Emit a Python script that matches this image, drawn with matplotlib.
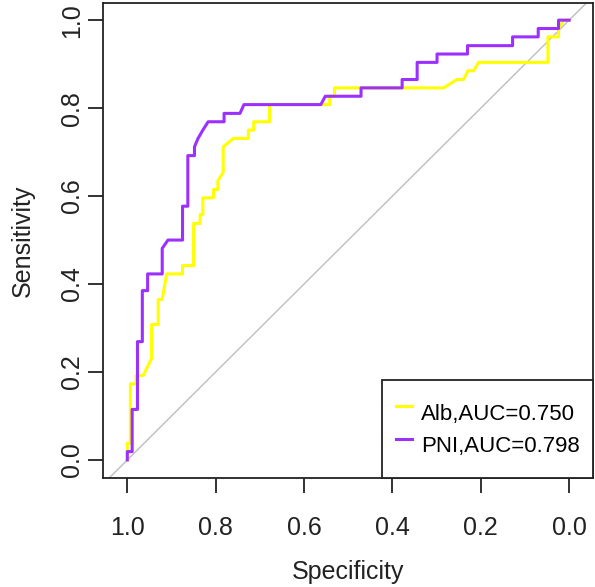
import matplotlib
matplotlib.use("Agg")
import matplotlib.pyplot as plt

plt.rcParams['font.family'] = ['Liberation Sans', 'DejaVu Sans']

# ROC 曲线的顶点 (specificity, sensitivity)
alb_spec = [1.000, 1.000, 0.993, 0.993, 0.980, 0.980, 0.964, 0.945, 0.945, 0.930,
            0.930, 0.921, 0.911, 0.875, 0.875, 0.850, 0.850, 0.835, 0.835, 0.829,
            0.829, 0.805, 0.805, 0.795, 0.795, 0.783, 0.783, 0.760, 0.726, 0.726,
            0.714, 0.714, 0.678, 0.678, 0.542, 0.542, 0.531, 0.531, 0.284, 0.254,
            0.239, 0.229, 0.216, 0.205, 0.048, 0.048, 0.024, 0.024, 0.012, 0.000]
alb_sens = [0.000, 0.038, 0.038, 0.173, 0.173, 0.192, 0.192, 0.231, 0.308, 0.308,
            0.365, 0.365, 0.423, 0.423, 0.442, 0.442, 0.538, 0.538, 0.558, 0.558,
            0.596, 0.596, 0.615, 0.615, 0.635, 0.654, 0.712, 0.731, 0.731, 0.750,
            0.750, 0.769, 0.769, 0.808, 0.808, 0.827, 0.827, 0.846, 0.846, 0.865,
            0.865, 0.885, 0.885, 0.904, 0.904, 0.962, 0.962, 0.981, 1.000, 1.000]

pni_spec = [1.000, 1.000, 0.989, 0.989, 0.977, 0.977, 0.966, 0.966, 0.954, 0.954,
            0.921, 0.921, 0.908, 0.875, 0.875, 0.863, 0.863, 0.848, 0.848, 0.840,
            0.829, 0.817, 0.781, 0.781, 0.745, 0.736, 0.562, 0.552, 0.471, 0.471,
            0.378, 0.378, 0.344, 0.344, 0.299, 0.299, 0.230, 0.230, 0.128, 0.128,
            0.070, 0.070, 0.024, 0.024, 0.000]
pni_sens = [0.000, 0.019, 0.019, 0.115, 0.115, 0.269, 0.269, 0.385, 0.385, 0.423,
            0.423, 0.481, 0.500, 0.500, 0.577, 0.577, 0.692, 0.692, 0.712, 0.731,
            0.750, 0.769, 0.769, 0.788, 0.788, 0.808, 0.808, 0.827, 0.827, 0.846,
            0.846, 0.865, 0.865, 0.904, 0.904, 0.923, 0.923, 0.942, 0.942, 0.962,
            0.962, 0.981, 0.981, 1.000, 1.000]

labels = ['Alb,AUC=0.750', 'PNI,AUC=0.798']
colors = ['#FFFF00', '#9B30FF']
ticks = [0.0, 0.2, 0.4, 0.6, 0.8, 1.0]

fig = plt.figure(figsize=(5.95, 5.87), dpi=100)
ax = fig.add_axes([103/595, 109/587, 490/595, 475/587])

# 参考线
ax.axline((1, 0), (0, 1), color='#BEBEBE', lw=1, zorder=1)

ax.plot(alb_spec, alb_sens, color=colors[0], lw=2.2, label=labels[0], zorder=2)
ax.plot(pni_spec, pni_sens, color=colors[1], lw=2.2, label=labels[1], zorder=3)

ax.set_xlim(1.055, -0.054)
ax.set_ylim(-0.041, 1.039)
ax.set_xticks(ticks)
ax.set_yticks(ticks)
ax.set_xticklabels(['%.1f' % t for t in ticks])
ax.set_yticklabels(['%.1f' % t for t in ticks], rotation=90, va='center')

for s in ax.spines.values():
    s.set_color('#222222')
    s.set_linewidth(1.3)
ax.tick_params(direction='out', length=10.5, width=1.3, color='#222222',
               labelsize=18, labelcolor='#222222')
ax.tick_params(axis='x', pad=17)
ax.tick_params(axis='y', pad=3)

ax.set_xlabel('Specificity', fontsize=18, color='#222222')
ax.set_ylabel('Sensitivity', fontsize=18, color='#222222')
ax.xaxis.set_label_coords(0.5, -0.1726)
ax.yaxis.set_label_coords(-0.140, 0.5)

leg = ax.legend(loc='lower right', bbox_to_anchor=(1, 0), borderaxespad=0,
                fontsize=16, handlelength=0.72, handletextpad=0.4,
                handleheight=2.33, labelspacing=-0.315, borderpad=0.61,
                fancybox=False, framealpha=1)
leg.get_frame().set_edgecolor('#222222')
leg.get_frame().set_linewidth(1.3)

fig.savefig('out.png', dpi=100)
